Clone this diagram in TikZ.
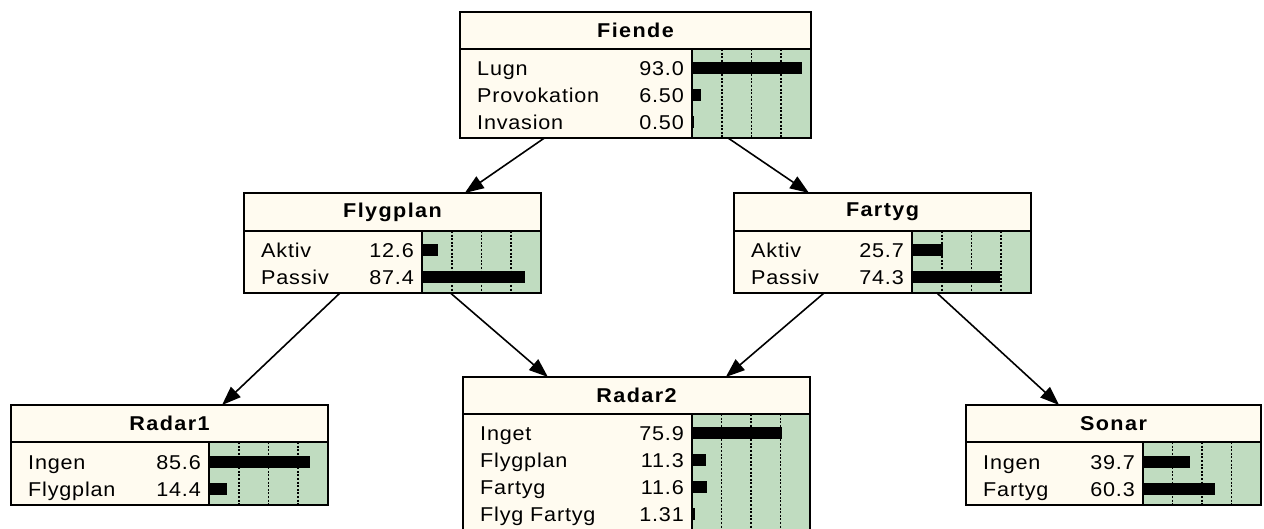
\documentclass[tikz,border=0pt]{standalone}
\usepackage{fontspec}
\setmainfont{Liberation Sans}[LetterSpace=4,FakeStretch=1.08]
\usepackage{tikz}
\usetikzlibrary{arrows.meta}

\definecolor{cream}{RGB}{255,251,240}
\definecolor{moneygreen}{RGB}{192,220,192}

\begin{document}
\begin{tikzpicture}[
    x=1pt, y=-1pt,
    netbox/.style={rectangle,fill=cream,inner sep=0pt,outer sep=0pt},
    frame/.style={draw,line width=1.8pt},
    barbg/.style={fill=moneygreen},
    grid/.style={line width=1.6pt,dash pattern=on 2pt off 1.6pt},
    title/.style={font=\fontsize{20}{22}\selectfont\bfseries\addfontfeatures{LetterSpace=7}},
    state/.style={anchor=base west,inner sep=0pt,font=\fontsize{20}{22}\selectfont},
    prob/.style={anchor=base east,inner sep=0pt,font=\fontsize{20}{22}\selectfont},
    edge/.style={line width=1.6pt,-{Triangle[length=19pt,width=14pt]}}
  ]
    \fill[white] (0,0) rectangle (1264,529);
    \useasboundingbox (0,0) rectangle (1264,529);

    % Fiende
    \node[netbox, minimum width=351, minimum height=126] (fiende) at (635.5,75) {};
    \fill[barbg] (692,49) rectangle (811,138);
    \foreach \k in {1,2,3} \draw[grid] (692+29.75*\k,49) -- (692+29.75*\k,138);
    \draw[frame] (460,49) -- (811,49) (692,49) -- (692,138);
    \node[title] (fiende-t) at (635.5,30.5) {Fiende};
    \foreach \lab/\val [count=\i from 0] in {Lugn/93.0, Provokation/6.50, Invasion/0.50} {
      \node[state] (fiende-s\i) at (477,75.5+27*\i) {\lab};
      \node[prob] (fiende-p\i) at (684,75.5+27*\i) {\val};
      \fill (693,62+27*\i) rectangle ++(1.17*\val,12);
    }
    \draw[frame] (fiende.north west) rectangle (fiende.south east);

    % Flygplan
    \node[netbox, minimum width=297, minimum height=100] (flygplan) at (392.5,243) {};
    \fill[barbg] (422,231) rectangle (541,293);
    \foreach \k in {1,2,3} \draw[grid] (422+29.75*\k,231) -- (422+29.75*\k,293);
    \draw[frame] (244,231) -- (541,231) (422,231) -- (422,293);
    \node[title] (flygplan-t) at (392.5,212) {Flygplan};
    \foreach \lab/\val [count=\i from 0] in {Aktiv/12.6, Passiv/87.4} {
      \node[state] (flygplan-s\i) at (261,257.5+27*\i) {\lab};
      \node[prob] (flygplan-p\i) at (414,257.5+27*\i) {\val};
      \fill (423,244+27*\i) rectangle ++(1.17*\val,12);
    }
    \draw[frame] (flygplan.north west) rectangle (flygplan.south east);

    % Fartyg
    \node[netbox, minimum width=297, minimum height=100] (fartyg) at (882.5,243) {};
    \fill[barbg] (912,231) rectangle (1031,293);
    \foreach \k in {1,2,3} \draw[grid] (912+29.75*\k,231) -- (912+29.75*\k,293);
    \draw[frame] (734,231) -- (1031,231) (912,231) -- (912,293);
    \node[title] (fartyg-t) at (882.5,212) {Fartyg};
    \foreach \lab/\val [count=\i from 0] in {Aktiv/25.7, Passiv/74.3} {
      \node[state] (fartyg-s\i) at (751,257.5+27*\i) {\lab};
      \node[prob] (fartyg-p\i) at (904,257.5+27*\i) {\val};
      \fill (913,244+27*\i) rectangle ++(1.17*\val,12);
    }
    \draw[frame] (fartyg.north west) rectangle (fartyg.south east);

    % Radar1
    \node[netbox, minimum width=317, minimum height=100] (radar1) at (169.5,455) {};
    \fill[barbg] (209,442) rectangle (328,505);
    \foreach \k in {1,2,3} \draw[grid] (209+29.75*\k,442) -- (209+29.75*\k,505);
    \draw[frame] (11,442) -- (328,442) (209,442) -- (209,505);
    \node[title] (radar1-t) at (169.5,423.5) {Radar1};
    \foreach \lab/\val [count=\i from 0] in {Ingen/85.6, Flygplan/14.4} {
      \node[state] (radar1-s\i) at (28,469.5+27*\i) {\lab};
      \node[prob] (radar1-p\i) at (201,469.5+27*\i) {\val};
      \fill (210,456+27*\i) rectangle ++(1.17*\val,12);
    }
    \draw[frame] (radar1.north west) rectangle (radar1.south east);

    % Radar2
    \node[netbox, minimum width=347, minimum height=153] (radar2) at (636.5,453.5) {};
    \fill[barbg] (692,414) rectangle (810,530);
    \foreach \k in {1,2,3} \draw[grid] (692+29.5*\k,414) -- (692+29.5*\k,530);
    \draw[frame] (463,414) -- (810,414) (692,414) -- (692,530);
    \node[title] (radar2-t) at (636.5,395.5) {Radar2};
    \foreach \lab/\val [count=\i from 0] in {Inget/75.9, Flygplan/11.3, Fartyg/11.6, Flyg Fartyg/1.31} {
      \node[state] (radar2-s\i) at (480,440.5+27*\i) {\lab};
      \node[prob] (radar2-p\i) at (684,440.5+27*\i) {\val};
      \fill (693,427+27*\i) rectangle ++(1.17*\val,12);
    }
    \draw[frame] (radar2.north west) rectangle (radar2.south east);

    % Sonar
    \node[netbox, minimum width=295, minimum height=100] (sonar) at (1113.5,455) {};
    \fill[barbg] (1143,442) rectangle (1261,505);
    \foreach \k in {1,2,3} \draw[grid] (1143+29.5*\k,442) -- (1143+29.5*\k,505);
    \draw[frame] (966,442) -- (1261,442) (1143,442) -- (1143,505);
    \node[title] (sonar-t) at (1113.5,423.5) {Sonar};
    \foreach \lab/\val [count=\i from 0] in {Ingen/39.7, Fartyg/60.3} {
      \node[state] (sonar-s\i) at (983,469.5+27*\i) {\lab};
      \node[prob] (sonar-p\i) at (1135,469.5+27*\i) {\val};
      \fill (1144,456+27*\i) rectangle ++(1.17*\val,12);
    }
    \draw[frame] (sonar.north west) rectangle (sonar.south east);

    % Links
    \draw[edge] (fiende) -- (flygplan);
    \draw[edge] (fiende) -- (fartyg);
    \draw[edge] (flygplan) -- (radar1);
    \draw[edge] (flygplan) -- (radar2);
    \draw[edge] (fartyg) -- (radar2);
    \draw[edge] (fartyg) -- (sonar);
  \end{tikzpicture}
\end{document}
